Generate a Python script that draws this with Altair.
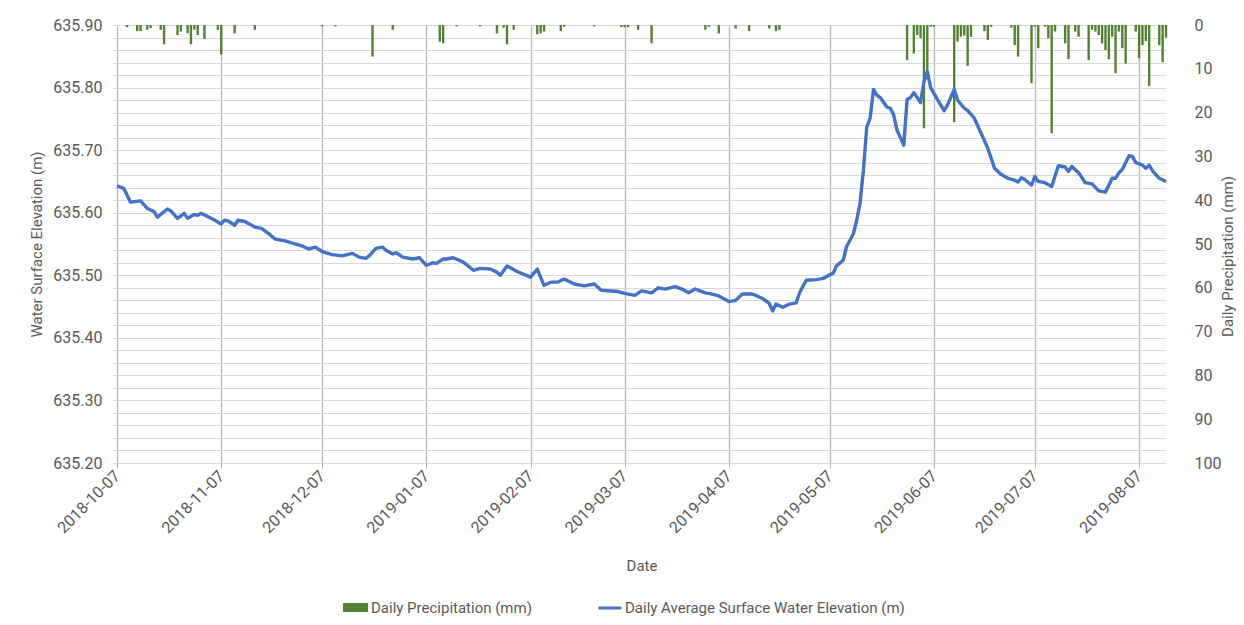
import altair as alt
import pandas as pd
import numpy as np

# ---------------- data ----------------
start_date = "2018-10-07"
end_date = "2019-08-15"
x_tick_dates = ["2018-10-07", "2018-11-07", "2018-12-07", "2019-01-07", "2019-02-07",
                "2019-03-07", "2019-04-07", "2019-05-07", "2019-06-07", "2019-07-07",
                "2019-08-07"]

# days after start_date
elev_days = [0, 2, 4, 7, 9, 11, 12, 15, 16, 18, 20, 21, 23, 24, 25, 28, 31, 32, 33, 35,
             36, 38, 41, 43, 45, 47, 50, 53, 55, 57, 59, 61, 64, 67, 70, 72, 74, 75, 77, 79,
             80, 82, 83, 85, 88, 90, 92, 94, 95, 97, 98, 100, 103, 106, 108, 111, 113, 114,
             116, 119, 123, 125, 127, 129, 131, 133, 136, 139, 142, 144, 149, 151, 154, 156,
             159, 161, 163, 166, 168, 170, 172, 175, 177, 179, 182, 184, 186, 189, 192, 194,
             195, 196, 198, 200, 202, 203, 205, 208, 210, 212, 213, 214, 216, 217, 219, 220,
             221, 222, 223, 224, 225, 226, 227, 229, 230, 231, 232, 234, 235, 236, 237, 239,
             240, 241, 242, 244, 246, 247, 249, 250, 252, 253, 255, 257, 259, 261, 263, 265,
             267, 268, 269, 270, 272, 273, 274, 276, 278, 280, 282, 283, 284, 286, 288, 290,
             292, 294, 296, 297, 298, 299, 301, 302, 303, 305, 306, 307, 308, 310, 312]
elev_values = [635.643, 635.639, 635.617, 635.619, 635.607, 635.602, 635.593, 635.606, 635.603,
               635.591, 635.599, 635.591, 635.597, 635.596, 635.599, 635.591, 635.582, 635.588,
               635.587, 635.580, 635.588, 635.586, 635.577, 635.575, 635.567, 635.558, 635.555,
               635.550, 635.547, 635.542, 635.545, 635.538, 635.533, 635.531, 635.535, 635.529,
               635.527, 635.531, 635.543, 635.545, 635.540, 635.534, 635.536, 635.529, 635.526,
               635.528, 635.516, 635.520, 635.519, 635.526, 635.526, 635.528, 635.521, 635.508,
               635.511, 635.510, 635.505, 635.500, 635.515, 635.506, 635.497, 635.510, 635.484,
               635.489, 635.489, 635.494, 635.486, 635.483, 635.486, 635.476, 635.474, 635.471,
               635.468, 635.475, 635.472, 635.480, 635.478, 635.482, 635.478, 635.472, 635.478,
               635.472, 635.470, 635.467, 635.458, 635.460, 635.470, 635.470, 635.463, 635.455,
               635.443, 635.454, 635.449, 635.454, 635.456, 635.472, 635.492, 635.493, 635.495,
               635.501, 635.503, 635.515, 635.524, 635.546, 635.566, 635.588, 635.615, 635.668,
               635.737, 635.751, 635.797, 635.788, 635.784, 635.769, 635.767, 635.756, 635.732,
               635.708, 635.781, 635.784, 635.792, 635.776, 635.809, 635.826, 635.800, 635.781,
               635.763, 635.772, 635.797, 635.780, 635.767, 635.763, 635.751, 635.727, 635.703,
               635.671, 635.661, 635.655, 635.652, 635.649, 635.656, 635.653, 635.644, 635.658,
               635.650, 635.648, 635.642, 635.675, 635.673, 635.666, 635.674, 635.664, 635.648,
               635.646, 635.635, 635.633, 635.655, 635.655, 635.664, 635.669, 635.691, 635.690,
               635.680, 635.676, 635.671, 635.676, 635.667, 635.655, 635.650]

precip_days = [3, 6, 7, 9, 10, 13, 14, 18, 19, 21, 22, 23, 24, 26, 30, 31, 35, 41, 61, 65,
               76, 82, 96, 97, 101, 108, 113, 115, 116, 118, 125, 126, 127, 132, 133, 142,
               150, 151, 152, 155, 159, 175, 176, 179, 184, 188, 194, 196, 197, 235, 237, 238,
               239, 240, 241, 242, 243, 249, 250, 251, 252, 253, 254, 258, 259, 260, 266, 267,
               268, 272, 273, 274, 276, 277, 278, 279, 282, 283, 285, 286, 289, 290, 291, 292,
               293, 294, 295, 296, 297, 298, 299, 300, 303, 304, 305, 306, 307, 310, 311, 312]
precip_mm = [0.5, 1.4, 1.4, 1.1, 0.7, 1.1, 4.4, 2.3, 1.5, 1.9, 4.4, 1.1, 2.3, 3.2, 1.1, 6.7,
             1.9, 1.1, 0.3, 0.3, 7.2, 1.1, 3.8, 4.2, 0.3, 0.3, 1.9, 0.6, 4.4, 1.1, 2.1, 1.9,
             1.5, 1.4, 0.4, 0.3, 0.5, 0.5, 0.5, 1.1, 4.2, 1.1, 0.4, 1.9, 0.8, 1.4, 0.8, 1.4,
             1.1, 8.0, 6.5, 2.3, 3.0, 23.6, 10.3, 0.4, 0.4, 22.2, 3.8, 2.7, 2.4, 9.3, 2.7,
             1.4, 3.4, 0.4, 0.6, 4.6, 7.2, 13.3, 0.4, 5.3, 0.4, 3.0, 24.7, 1.5, 4.2, 7.8,
             1.5, 2.7, 8.0, 1.1, 1.5, 2.3, 4.2, 5.7, 7.8, 2.7, 11.0, 1.5, 5.3, 8.8, 1.5, 7.6,
             4.6, 3.7, 13.9, 4.6, 8.5, 2.9]

left_ticks = [635.20, 635.30, 635.40, 635.50, 635.60, 635.70, 635.80, 635.90]
right_ticks = [0, 10, 20, 30, 40, 50, 60, 70, 80, 90, 100]

precip_name = "Daily Precipitation (mm)"
elev_name = "Daily Average Surface Water Elevation (m)"

# ---------------- build tables ----------------
start = pd.Timestamp(start_date)


def day_str(days):
    return [(start + pd.Timedelta(days=int(d))).strftime("%Y-%m-%d") for d in days]


def ms(s):
    return int(pd.Timestamp(s, tz="UTC").timestamp() * 1000)


elev_df = pd.DataFrame({"date": day_str(elev_days), "elev": elev_values, "series": elev_name})
precip_df = pd.DataFrame({"date": day_str(precip_days), "mm": precip_mm, "series": precip_name})

grid_values = np.round(np.arange(left_ticks[0], left_ticks[-1] + 0.001, 0.02), 2).tolist()

FONT = "Roboto"
TXT = "#595959"
GREEN = "#548235"
BLUE = "#4472c4"

x_enc = alt.X(
    "date:T",
    title="Date",
    scale=alt.Scale(type="utc", domain=[ms(start_date), ms(end_date)], padding=0),
    axis=alt.Axis(
        values=[ms(d) for d in x_tick_dates],
        labelExpr="utcFormat(datum.value, '%Y-%m-%d')",
        labelAngle=-45,
        labelAlign="right",
        labelBaseline="middle",
        labelFont=FONT,
        labelFontSize=16,
        labelColor=TXT,
        labelPadding=5,
        labelOverlap=False,
        grid=True,
        gridColor="#b8b8b8",
        gridWidth=1.3,
        domain=False,
        ticks=True,
        tickSize=5,
        tickColor="#b8b8b8",
        titleFont=FONT,
        titleFontSize=15,
        titleFontWeight="normal",
        titleColor=TXT,
        titlePadding=23,
    ),
)

bars = alt.Chart(precip_df).mark_bar(size=2.4).encode(
    x=x_enc,
    y=alt.Y(
        "mm:Q",
        title="Daily Precipitation (mm)",
        scale=alt.Scale(domain=[0, 100], reverse=True, nice=False),
        axis=alt.Axis(
            orient="right",
            values=right_ticks,
            grid=False,
            domain=False,
            ticks=False,
            labelFont=FONT,
            labelFontSize=16,
            labelColor=TXT,
            labelPadding=28,
            titleFont=FONT,
            titleFontSize=15,
            titleFontWeight="normal",
            titleColor=TXT,
            titleAngle=270,
            titleAlign="center",
            titleBaseline="middle",
            titleX=61,
            titleY=231,
        ),
    ),
    fill=alt.Fill(
        "series:N",
        title=None,
        scale=alt.Scale(domain=[precip_name], range=[GREEN]),
        legend=alt.Legend(
            orient="none",
            legendX=226,
            legendY=570,
            padding=0,
            symbolType="M-1,-0.36L1,-0.36L1,0.36L-1,0.36Z",
            symbolSize=625,
            symbolStrokeWidth=0,
            labelFont=FONT,
            labelFontSize=15,
            labelColor=TXT,
            labelOffset=3,
            labelLimit=400,
        ),
    ),
)

line = alt.Chart(elev_df).mark_line(strokeWidth=3.4, strokeJoin="round").encode(
    x=x_enc,
    y=alt.Y(
        "elev:Q",
        title="Water Surface Elevation (m)",
        scale=alt.Scale(domain=[left_ticks[0], left_ticks[-1]], nice=False, zero=False),
        axis=alt.Axis(
            orient="left",
            values=grid_values,
            labelExpr="abs(datum.value * 10 - round(datum.value * 10)) < 0.001 ? format(datum.value, '.2f') : ''",
            grid=True,
            gridColor="#d9d9d9",
            gridWidth=1,
            domain=False,
            ticks=True,
            tickSize=5,
            tickColor="#d9d9d9",
            labelFont=FONT,
            labelFontSize=16,
            labelColor=TXT,
            labelPadding=10,
            titleFont=FONT,
            titleFontSize=15,
            titleFontWeight="normal",
            titleColor=TXT,
            titlePadding=8,
        ),
    ),
    stroke=alt.Stroke(
        "series:N",
        title=None,
        scale=alt.Scale(domain=[elev_name], range=[BLUE]),
        legend=alt.Legend(
            orient="none",
            legendX=480,
            legendY=570,
            padding=0,
            symbolType="stroke",
            symbolSize=529,
            symbolStrokeWidth=3,
            labelFont=FONT,
            labelFontSize=15,
            labelColor=TXT,
            labelOffset=2,
            labelLimit=500,
        ),
    ),
)

chart = (
    alt.layer(bars, line)
    .resolve_scale(y="independent")
    .resolve_axis(y="independent")
    .properties(
        width=1049,
        height=438,
        autosize=alt.AutoSizeParams(type="none"),
        padding={"left": 109, "top": 17, "right": 70, "bottom": 154},
        background="white",
    )
    .configure_view(stroke="transparent")
)

chart.save("out.html", embed_options={"renderer": "svg", "actions": False})
